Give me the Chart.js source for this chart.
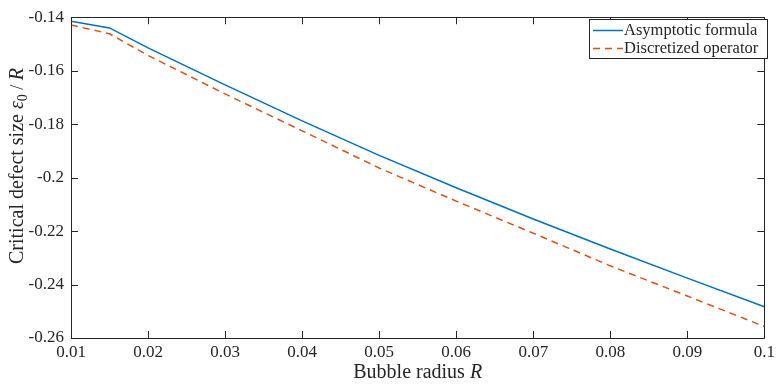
<!DOCTYPE html>
<html>
<head>
<meta charset="utf-8">
<script src="https://cdn.jsdelivr.net/npm/chart.js@4.4.1/dist/chart.umd.min.js"></script>
<style>
  html, body { margin: 0; padding: 0; background: #fff; }
  #wrap { width: 779px; height: 387px; }
</style>
</head>
<body>
<div id="wrap"><canvas id="myChart"></canvas></div>
<script>
  // values
  let radius = [0.01, 0.015, 0.02, 0.03, 0.04, 0.05, 0.06, 0.07, 0.08, 0.09, 0.1];
  let asymptotic = [-0.1415, -0.1440, -0.1515, -0.1653, -0.1788, -0.1917, -0.2038, -0.2155, -0.2267, -0.2376, -0.2483];
  let discretized = [-0.1429, -0.1462, -0.1543, -0.1687, -0.1825, -0.1964, -0.2088, -0.2208, -0.2330, -0.2443, -0.2557];
  let seriesLabels = ["Asymptotic formula", "Discretized operator"];
  let xTicks = [0.01, 0.02, 0.03, 0.04, 0.05, 0.06, 0.07, 0.08, 0.09, 0.1];
  let yTicks = [-0.26, -0.24, -0.22, -0.2, -0.18, -0.16, -0.14];

  const serif = "'Liberation Serif', 'DejaVu Serif', serif";
  const axisColor = "#262626";

  function fmt(v) {
    return String(Number(v.toFixed(2)));
  }

  // MATLAB-like box, inward ticks, axis titles and legend
  let matlabLook = {
    id: "matlabLook",
    afterDraw: function (chart) {
      let ctx = chart.ctx;
      let a = chart.chartArea;
      let xs = chart.scales.x;
      let ys = chart.scales.y;
      ctx.save();
      ctx.strokeStyle = axisColor;
      ctx.lineWidth = 1;
      ctx.beginPath();
      ctx.rect(Math.round(a.left) + 0.5, Math.round(a.top) + 0.5,
        Math.round(a.right - a.left), Math.round(a.bottom - a.top));
      ctx.stroke();

      let tl = 7;
      ctx.beginPath();
      xTicks.forEach(function (v) {
        let px = Math.round(xs.getPixelForValue(v)) + 0.5;
        ctx.moveTo(px, a.bottom); ctx.lineTo(px, a.bottom - tl);
        ctx.moveTo(px, a.top); ctx.lineTo(px, a.top + tl);
      });
      yTicks.forEach(function (v) {
        let py = Math.round(ys.getPixelForValue(v)) + 0.5;
        ctx.moveTo(a.left, py); ctx.lineTo(a.left + tl, py);
        ctx.moveTo(a.right, py); ctx.lineTo(a.right - tl, py);
      });
      ctx.stroke();

      // x title
      ctx.fillStyle = axisColor;
      ctx.textBaseline = "alphabetic";
      let cx = (a.left + a.right) / 2;
      let t1 = "Bubble radius ";
      ctx.font = "italic 20px " + serif;
      let w2 = ctx.measureText("R").width;
      ctx.font = "20px " + serif;
      let w1 = ctx.measureText(t1).width;
      let sx = cx - (w1 + w2) / 2;
      ctx.textAlign = "left";
      ctx.fillText(t1, sx, 378);
      ctx.font = "italic 20px " + serif;
      ctx.fillText("R", sx + w1, 378);

      // y title, rotated
      ctx.save();
      ctx.translate(23, 166);
      ctx.rotate(-Math.PI / 2);
      let parts = [
        { t: "Critical defect size ", f: "20px " + serif, dy: 0 },
        { t: "ε", f: "italic 20px " + serif, dy: 0 },
        { t: "0", f: "14px " + serif, dy: 4 },
        { t: " / ", f: "18px " + serif, dy: 0 },
        { t: "R", f: "italic 20px " + serif, dy: 0 },
      ];
      let total = 0;
      parts.forEach(function (p) { ctx.font = p.f; p.w = ctx.measureText(p.t).width; total += p.w; });
      let px0 = -total / 2;
      parts.forEach(function (p) {
        ctx.font = p.f;
        ctx.fillText(p.t, px0, p.dy);
        px0 += p.w;
      });
      ctx.restore();

      // legend
      let lx = 589, ly = 19, lw = 178, lh = 39;
      ctx.fillStyle = "#fff";
      ctx.fillRect(lx, ly, lw, lh);
      ctx.strokeStyle = axisColor;
      ctx.strokeRect(lx + 0.5, ly + 0.5, lw, lh);
      ctx.font = "16.5px " + serif;
      ctx.textBaseline = "middle";
      chart.data.datasets.forEach(function (ds, i) {
        let yy = ly + 11 + i * 18 + 0.5;
        ctx.strokeStyle = ds.borderColor;
        ctx.lineWidth = 1.5;
        ctx.setLineDash(ds.borderDash || []);
        ctx.beginPath();
        ctx.moveTo(lx + 4, yy); ctx.lineTo(lx + 34, yy);
        ctx.stroke();
        ctx.setLineDash([]);
        ctx.fillStyle = axisColor;
        ctx.fillText(ds.label, lx + 35, yy);
      });
      ctx.restore();
    },
  };

  let ctx = document.getElementById("myChart").getContext("2d");
  let chartData = {
    datasets: [
      {
        label: seriesLabels[0],
        data: radius.map(function (r, i) { return { x: r, y: asymptotic[i] }; }),
        borderColor: "#0072BD",
        borderWidth: 1.5,
        pointRadius: 0,
        tension: 0,
      },
      {
        label: seriesLabels[1],
        data: radius.map(function (r, i) { return { x: r, y: discretized[i] }; }),
        borderColor: "#D95319",
        borderWidth: 1.5,
        borderDash: [7, 5],
        pointRadius: 0,
        tension: 0,
      },
    ],
  };

  let myChart = new Chart(ctx, {
    type: "line",
    data: chartData,
    plugins: [matlabLook],
    options: {
      responsive: true,
      maintainAspectRatio: false,
      animation: false,
      layout: { padding: { top: 11, right: 9, left: 0, bottom: 0 } },
      plugins: { legend: { display: false }, tooltip: { enabled: false } },
      scales: {
        x: {
          type: "linear",
          min: 0.01,
          max: 0.1,
          afterBuildTicks: function (scale) { scale.ticks = xTicks.map(function (v) { return { value: v }; }); },
          afterFit: function (scale) { scale.height = 49; },
          grid: { display: false, drawTicks: false },
          border: { display: false },
          ticks: {
            padding: 4,
            color: axisColor,
            font: { family: serif, size: 17 },
            maxRotation: 0,
            callback: function (v) { return fmt(v); },
          },
        },
        y: {
          type: "linear",
          min: -0.26,
          max: -0.14,
          afterBuildTicks: function (scale) { scale.ticks = yTicks.map(function (v) { return { value: v }; }); },
          afterFit: function (scale) { scale.width = 71; },
          grid: { display: false, drawTicks: false },
          border: { display: false },
          ticks: {
            padding: 7,
            color: axisColor,
            font: { family: serif, size: 17 },
            callback: function (v) { return fmt(v); },
          },
        },
      },
    },
  });
</script>
</body>
</html>
